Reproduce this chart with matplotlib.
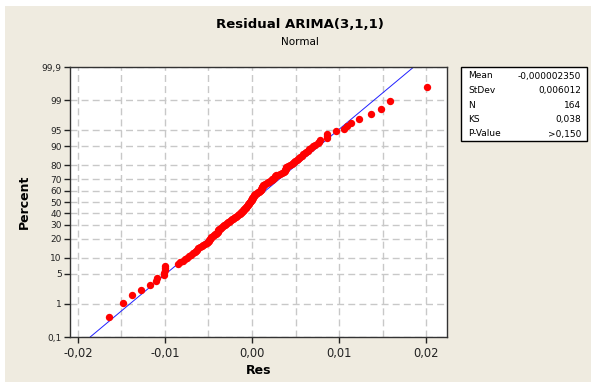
import numpy as np
import matplotlib
matplotlib.use('Agg')
import matplotlib.pyplot as plt
from matplotlib.patches import Rectangle
from statistics import NormalDist

# residuals of ARIMA(3,1,1), sorted
residuals = [-0.01644, -0.01486, -0.01378, -0.01274, -0.01171, -0.01101, -0.01092, -0.01012, -0.01006, -0.01002,
             -0.00998, -0.00994, -0.00853, -0.00824, -0.00795, -0.00769, -0.00745, -0.00722, -0.00700, -0.00678,
             -0.00659, -0.00644, -0.00631, -0.00615, -0.00595, -0.00576, -0.00557, -0.00538, -0.00519, -0.00505,
             -0.00497, -0.00489, -0.00481, -0.00474, -0.00467, -0.00453, -0.00439, -0.00426, -0.00412, -0.00400,
             -0.00394, -0.00390, -0.00386, -0.00377, -0.00365, -0.00354, -0.00343, -0.00332, -0.00321, -0.00311,
             -0.00301, -0.00290, -0.00280, -0.00268, -0.00256, -0.00244, -0.00232, -0.00220, -0.00208, -0.00196,
             -0.00184, -0.00173, -0.00161, -0.00150, -0.00138, -0.00130, -0.00123, -0.00115, -0.00108, -0.00101,
             -0.00094, -0.00086, -0.00079, -0.00072, -0.00065, -0.00059, -0.00053, -0.00047, -0.00041, -0.00035,
             -0.00029, -0.00023, -0.00018, -0.00013, -0.00009, -0.00005, 0.00000, 0.00005, 0.00009, 0.00014,
             0.00018, 0.00022, 0.00029, 0.00039, 0.00049, 0.00059, 0.00069, 0.00079, 0.00090, 0.00100,
             0.00104, 0.00108, 0.00111, 0.00115, 0.00119, 0.00123, 0.00127, 0.00140, 0.00154, 0.00167,
             0.00181, 0.00195, 0.00210, 0.00225, 0.00233, 0.00242, 0.00251, 0.00260, 0.00269, 0.00278,
             0.00296, 0.00319, 0.00343, 0.00367, 0.00379, 0.00382, 0.00385, 0.00389, 0.00392, 0.00396,
             0.00414, 0.00435, 0.00456, 0.00476, 0.00488, 0.00499, 0.00512, 0.00524, 0.00537, 0.00550,
             0.00569, 0.00590, 0.00609, 0.00624, 0.00639, 0.00655, 0.00674, 0.00699, 0.00726, 0.00753,
             0.00772, 0.00785, 0.00860, 0.00862, 0.00865, 0.00964, 0.01060, 0.01088, 0.01134, 0.01229,
             0.01368, 0.01479, 0.01586, 0.02005]

fit_mean = -0.000002350
fit_sd = 0.006012

stat_names = ['Mean', 'StDev', 'N', 'KS', 'P-Value']
stat_values = ['-0,000002350', '0,006012', '164', '0,038', '>0,150']

pct_ticks = [0.1, 1, 5, 10, 20, 30, 40, 50, 60, 70, 80, 90, 95, 99, 99.9]
pct_labels = ['0,1', '1', '5', '10', '20', '30', '40', '50', '60', '70', '80', '90', '95', '99', '99,9']
x_ticks = [-0.02, -0.01, 0.0, 0.01, 0.02]
x_labels = ['-0,02', '-0,01', '0,00', '0,01', '0,02']

nd = NormalDist()
def zval(p):
    return nd.inv_cdf(p / 100.0)

# median rank plotting positions (as minitab does)
res = np.sort(np.array(residuals))
n = len(res)
ranks = np.arange(1, n + 1)
pos = np.array([zval(100 * (i - 0.3) / (n + 0.4)) for i in ranks])

W, H = 591, 382
fig = plt.figure(figsize=(W / 100, H / 100), dpi=100)
fig.patch.set_facecolor('white')
fig.patches.append(Rectangle((5 / W, 0), 586 / W, 376 / H, transform=fig.transFigure,
                             facecolor='#EFEBE0', edgecolor='none', zorder=-10))

ax = fig.add_axes([70 / W, 1 - 337 / H, 377 / W, 270 / H])
ax.set_facecolor('white')

zlo, zhi = zval(0.1), zval(99.9)
ax.set_ylim(zlo, zhi)
ax.set_xlim(-0.0209, 0.0224)

# grid
for p in pct_ticks:
    ax.axhline(zval(p), color='#C8C8C8', lw=1, ls=(0, (5, 3)), zorder=0)
for gx in np.arange(-0.02, 0.0201, 0.005):
    ax.axvline(gx, color='#C8C8C8', lw=1, ls=(0, (5, 3)), zorder=0)

# fitted normal line
zz = np.array([zlo, zhi])
ax.plot(fit_mean + fit_sd * zz, zz, color='#2020FF', lw=0.7, zorder=2)

ax.plot(res, pos, 'o', color='#FF0000', ms=5.3, mec='none', zorder=3)

ax.set_yticks([zval(p) for p in pct_ticks])
ax.set_yticklabels(pct_labels)
ax.set_xticks(x_ticks)
ax.set_xticklabels(x_labels)
ax.tick_params(axis='y', labelsize=6.5, length=4, width=1, colors='#222222', pad=2)
ax.tick_params(axis='x', labelsize=8.3, length=4, width=1, colors='#222222', pad=3)
for s in ax.spines.values():
    s.set_color('#333333')
    s.set_linewidth(1)

ax.set_xlabel('Res', fontsize=9, fontweight='bold', labelpad=3)
ax.set_ylabel('Percent', fontsize=9, fontweight='bold', labelpad=8)

fig.text(300 / W, 1 - 25 / H, 'Residual ARIMA(3,1,1)', ha='center', va='center',
         fontsize=9.5, fontweight='bold')
fig.text(300 / W, 1 - 42 / H, 'Normal', ha='center', va='center', fontsize=7.5)

# stats box
box_l, box_t, box_r, box_b = 461, 67, 587, 141
fig.patches.append(Rectangle((box_l / W, 1 - box_b / H), (box_r - box_l) / W, (box_b - box_t) / H,
                             transform=fig.transFigure, facecolor='white', edgecolor='black', lw=1))
for k, (nm, vl) in enumerate(zip(stat_names, stat_values)):
    yy = 1 - (76 + 14.5 * k) / H
    fig.text(468 / W, yy, nm, ha='left', va='center', fontsize=6.5)
    fig.text(581 / W, yy, vl, ha='right', va='center', fontsize=6.5)

fig.savefig('out.png', dpi=100, facecolor=fig.get_facecolor())
